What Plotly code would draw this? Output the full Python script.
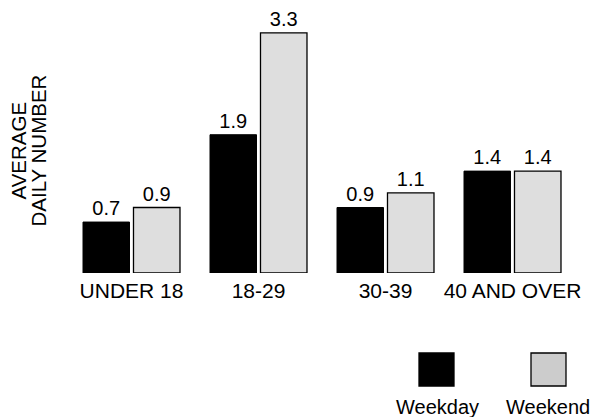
import plotly.graph_objects as go

categories = ["UNDER 18", "18-29", "30-39", "40 AND OVER"]
weekday = [0.7, 1.9, 0.9, 1.4]
weekend = [0.9, 3.3, 1.1, 1.4]
series_names = ["Weekday", "Weekend"]

FONT = "Liberation Sans, Arial, Helvetica, sans-serif"

# Page body margin is removed by a post script, so figure pixels == page pixels.
FIG_W, FIG_H = 595, 417
L, R, T, B = 68, 19, 11, 144
PW = FIG_W - L - R
PH = FIG_H - T - B


def px(xpage):
    return (xpage - L) / PW


def py(ypage):
    return (FIG_H - B - ypage) / PH


fig = go.Figure()
fig.add_trace(go.Bar(
    x=categories, y=weekday, name=series_names[0],
    marker=dict(color="#000000", line=dict(color="#000000", width=1)),
    text=[f"{v:.1f}" for v in weekday], textposition="outside",
    textfont=dict(size=20, color="#000000", family=FONT), cliponaxis=False,
))
fig.add_trace(go.Bar(
    x=categories, y=weekend, name=series_names[1],
    marker=dict(color="#dedede", line=dict(color="#000000", width=1.3)),
    text=[f"{v:.1f}" for v in weekend], textposition="outside",
    textfont=dict(size=20, color="#000000", family=FONT), cliponaxis=False,
))

fig.update_layout(
    width=FIG_W, height=FIG_H,
    margin=dict(l=L, r=R, t=T, b=B, pad=0),
    paper_bgcolor="white", plot_bgcolor="white",
    barmode="group", bargap=0.205, bargroupgap=0.079,
    showlegend=False,
    font=dict(family=FONT, color="#000000", size=20),
    xaxis=dict(showline=False, showgrid=False, zeroline=False, ticks="",
               tickfont=dict(size=21), range=[-0.5, 3.5], ticklabelstandoff=3),
    yaxis=dict(range=[0, 3.6], showline=False, showgrid=False, zeroline=False,
               showticklabels=False, ticks=""),
)

# Y-axis title (two tight lines)
fig.add_annotation(text="AVERAGE", xref="paper", yref="paper", x=px(17.5), y=py(151),
                   xanchor="center", yanchor="middle", textangle=-90,
                   showarrow=False, font=dict(size=20.5))
fig.add_annotation(text="DAILY NUMBER", xref="paper", yref="paper", x=px(37.5), y=py(151),
                   xanchor="center", yanchor="middle", textangle=-90,
                   showarrow=False, font=dict(size=20.5))

# Legend (drawn manually below the chart)
legend_items = [(series_names[0], "#000000", 436.5, 437), (series_names[1], "#cccccc", 548.5, 547.5)]
for name, col, cx, tx in legend_items:
    fig.add_shape(type="rect", xref="paper", yref="paper",
                  x0=px(cx - 17.5), x1=px(cx + 17.5),
                  y0=py(386), y1=py(353),
                  fillcolor=col, line=dict(color="#000000", width=1.3))
    fig.add_annotation(text=name, xref="paper", yref="paper",
                       x=px(tx), y=py(407),
                       xanchor="center", yanchor="middle", showarrow=False,
                       font=dict(size=20))

fig.write_html(
    "out.html",
    config={"displayModeBar": False},
    post_script="document.body.style.margin='0';document.body.style.overflow='hidden';",
)
